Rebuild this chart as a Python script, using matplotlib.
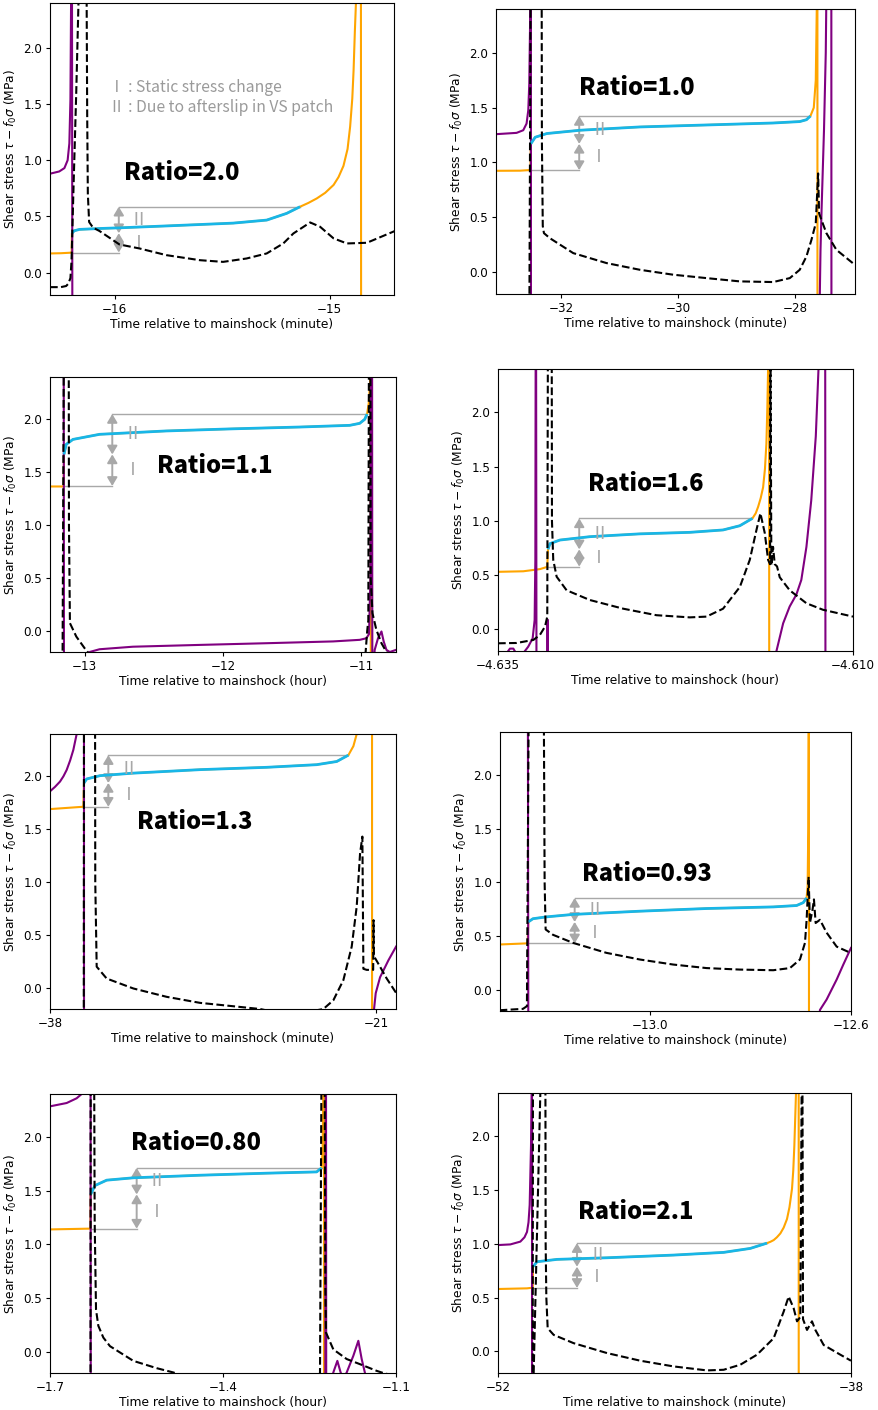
import numpy as np
import matplotlib
matplotlib.use("Agg")
import matplotlib.pyplot as plt

plt.rcParams["font.family"] = ["DejaVu Sans"]

# ---------------------------------------------------------------- data
# Panel 1  (Ratio=2.0, minutes)
p1_purple_t = [-16.30, -16.257, -16.233, -16.218, -16.210, -16.205, -16.202, -16.200, -16.198, -16.196]
p1_purple_y = [0.88, 0.90, 0.93, 1.00, 1.15, 1.54, 2.40, 3.00, 3.00, -0.50]
p1_black_t = [-16.30, -16.25, -16.225, -16.215, -16.205, -16.200, -16.190, -16.178, -16.165, -16.130,
              -16.127, -16.124, -16.118, -16.100, -16.070, -15.977, -15.883, -15.759, -15.603, -15.495,
              -15.386, -15.292, -15.215, -15.168, -15.090, -15.044, -14.981, -14.919, -14.826, -14.697]
p1_black_y = [-0.13, -0.13, -0.12, -0.10, -0.05, 0.10, 0.80, 1.60, 2.60, 2.60,
              1.40, 0.70, 0.45, 0.40, 0.37, 0.25, 0.214, 0.155, 0.110, 0.095,
              0.125, 0.170, 0.259, 0.348, 0.446, 0.408, 0.304, 0.259, 0.265, 0.369]
p1_orange_pre_t = [-16.30, -16.25, -16.21, -16.199]
p1_orange_pre_y = [0.17, 0.172, 0.176, 0.178]
p1_cyan_t = [-16.198, -16.187, -16.163, -16.070, -15.977, -15.759, -15.448, -15.292, -15.199, -15.137]
p1_cyan_y = [0.35, 0.372, 0.384, 0.392, 0.398, 0.415, 0.44, 0.467, 0.527, 0.586]
p1_orange_post_t = [-15.098, -15.059, -15.020, -14.981, -14.958, -14.935, -14.916, -14.904, -14.894,
                    -14.888, -14.882, -14.877, -14.874, -14.854, -14.853]
p1_orange_post_y = [0.62, 0.66, 0.71, 0.78, 0.85, 0.95, 1.10, 1.30, 1.55,
                    1.80, 2.15, 2.40, 3.00, 3.00, -0.50]

# Panel 2  (Ratio=1.0, minutes)
p2_purple_t = [-33.11, -32.758, -32.644, -32.587, -32.558, -32.541, -32.524, -32.520, -32.513, -32.512,
               -27.58, -27.56, -27.54, -27.50, -27.47, -27.45, -27.375, -27.373]
p2_purple_y = [1.258, 1.27, 1.294, 1.355, 1.476, 1.718, 2.39, 3.0, 3.0, -0.5,
               -0.5, 0.2, 0.6, 1.3, 2.0, 3.0, 3.0, -0.5]
p2_black_t = [-32.54, -32.515, -32.33, -32.325, -32.31, -32.29, -32.188, -31.789, -31.219, -30.650,
              -30.080, -29.510, -28.940, -28.370, -28.085, -27.915, -27.801, -27.715, -27.641, -27.601,
              -27.584, -27.544, -27.459, -27.288, -26.974]
p2_black_y = [-0.5, 3.0, 3.0, 1.2, 0.42, 0.355, 0.309, 0.173, 0.082, 0.021,
              -0.024, -0.055, -0.085, -0.091, -0.055, 0.021, 0.142, 0.294, 0.445, 0.90,
              0.536, 0.476, 0.355, 0.203, 0.067]
p2_orange_pre_t = [-33.11, -32.7, -32.55, -32.52]
p2_orange_pre_y = [0.924, 0.925, 0.93, 0.93]
p2_cyan_t = [-32.515, -32.44, -32.24, -31.67, -30.65, -29.51, -28.37, -27.915, -27.80, -27.732]
p2_cyan_y = [1.17, 1.23, 1.264, 1.294, 1.324, 1.342, 1.36, 1.373, 1.39, 1.424]
p2_orange_post_t = [-27.675, -27.641, -27.624, -27.620, -27.613, -27.612]
p2_orange_post_y = [1.5, 1.75, 2.4, 3.0, 3.0, -0.5]

# Panel 3  (Ratio=1.1, hours)
p3_purple_t = [-13.25, -13.151, -13.149, -12.99, -12.964, -12.892, -12.651, -12.169, -11.687, -11.205,
               -11.012, -10.964, -10.945, -10.935, -10.930, -10.923, -10.921, -10.904, -10.880, -10.855,
               -10.839, -10.819, -10.795, -10.75]
p3_purple_y = [3.0, 3.0, -0.5, -0.3, -0.2, -0.174, -0.15, -0.133, -0.117, -0.10,
               -0.085, -0.07, -0.03, 0.5, 3.0, 3.0, -0.5, -0.18, -0.07, -0.006,
               -0.10, -0.18, -0.20, -0.18]
p3_black_t = [-13.16, -13.149, -13.115, -13.113, -13.106, -13.06, -13.0, -12.976, -12.9, -11.1,
              -10.97, -10.958, -10.950, -10.945, -10.935, -10.933, -10.920, -10.892, -10.855, -10.819,
              -10.78]
p3_black_y = [-0.5, 3.0, 3.0, 1.0, 0.073, -0.054, -0.164, -0.202, -0.4, -0.4,
              -0.21, 0.0, 0.1, 3.0, 3.0, 0.5, 0.167, 0.01, -0.117, -0.2,
              -0.3]
p3_orange_pre_t = [-13.25, -13.16, -13.151]
p3_orange_pre_y = [1.365, 1.365, 1.37]
p3_cyan_t = [-13.149, -13.133, -13.084, -12.892, -12.41, -11.928, -11.446, -11.084, -11.012, -10.976, -10.959]
p3_cyan_y = [1.668, 1.763, 1.81, 1.858, 1.89, 1.91, 1.927, 1.943, 1.962, 2.0, 2.05]
p3_orange_post_t = [-10.947, -10.937, -10.934, -10.933, -10.932]
p3_orange_post_y = [2.15, 2.35, 3.0, 3.0, -0.5]

# Panel 4  (Ratio=1.6, hours)
p4_purple_t = [-4.63445, -4.63439, -4.63416, -4.63392, -4.63373, -4.63322, -4.63287, -4.63256, -4.63242, -4.63237,
               -4.63235, -4.63232, -4.63229, -4.63152, -4.63151, -4.63150, -4.6155, -4.61539, -4.61492, -4.61446,
               -4.61399, -4.61364, -4.61328, -4.61294, -4.61262, -4.61243, -4.61240, -4.61196, -4.61194]
p4_purple_y = [-0.25, -0.22, -0.178, -0.178, -0.22, -0.22, -0.16, -0.083, 0.086, 0.64,
               2.4, 3.0, -0.5, -0.5, 0.09, -0.5, -0.5, -0.2, 0.055, 0.21,
               0.32, 0.455, 0.76, 1.19, 1.78, 2.4, 3.0, 3.0, -0.5]
p4_black_t = [-4.635, -4.63369, -4.63251, -4.63205, -4.63169, -4.63153, -4.63148, -4.63122, -4.6312, -4.63111,
              -4.63087, -4.63017, -4.62853, -4.62618, -4.62384, -4.62149, -4.62032, -4.61915, -4.61797, -4.61727,
              -4.6168, -4.61652, -4.61621, -4.61598, -4.61584, -4.61582, -4.61575, -4.61563, -4.61551, -4.61535,
              -4.61516, -4.61446, -4.61328, -4.61211, -4.61]
p4_black_y = [-0.129, -0.126, -0.098, -0.052, 0.025, 0.117, 3.0, 3.0, 1.0, 0.64,
              0.485, 0.36, 0.27, 0.19, 0.13, 0.11, 0.117, 0.19, 0.39, 0.64,
              0.915, 1.07, 0.885, 0.64, 0.60, 3.0, 0.59, 0.76, 0.60, 0.58,
              0.48, 0.36, 0.24, 0.18, 0.117]
p4_orange_pre_t = [-4.635, -4.63322, -4.63205, -4.63162, -4.63153]
p4_orange_pre_y = [0.53, 0.535, 0.555, 0.572, 0.578]
p4_cyan_t = [-4.63148, -4.63134, -4.63064, -4.62853, -4.62501, -4.62149, -4.61915, -4.61797, -4.61708]
p4_cyan_y = [0.737, 0.79, 0.823, 0.854, 0.88, 0.894, 0.916, 0.955, 1.023]
p4_orange_post_t = [-4.61685, -4.61668, -4.61650, -4.61633, -4.61620, -4.6161, -4.61603, -4.61598, -4.61596,
                    -4.61591, -4.6159]
p4_orange_post_y = [1.07, 1.13, 1.21, 1.31, 1.48, 1.71, 2.05, 2.4, 3.0,
                    3.0, -0.5]

# Panel 5  (Ratio=1.3, minutes)
p5_purple_t = [-38.0, -37.74, -37.479, -37.30, -37.131, -36.95, -36.783, -36.609, -36.55, -36.228, -36.226,
               -21.174, -21.104, -21.017, -20.791, -20.357, -19.957]
p5_purple_y = [1.858, 1.90, 1.95, 2.00, 2.06, 2.15, 2.25, 2.4, 3.0, 3.0, -0.5,
               -0.5, -0.2, -0.05, 0.1, 0.26, 0.39]
p5_black_t = [-36.24, -36.227, -35.653, -35.64, -35.566, -35.045, -33.654, -31.916, -30.178, -28.44,
              -27.049, -25.5, -23.746, -23.225, -22.704, -22.269, -22.008, -21.834, -21.713, -21.661,
              -21.487, -21.15, -21.13, -21.11, -20.792, -20.444, -19.957]
p5_black_y = [-0.5, 3.0, 3.0, 1.0, 0.2, 0.088, -0.006, -0.085, -0.142, -0.174,
              -0.2, -0.26, -0.2, -0.117, 0.073, 0.39, 0.77, 1.27, 1.43, 0.18,
              0.17, 0.17, 0.64, 0.30, 0.2, 0.088, -0.047]
p5_orange_pre_t = [-38.0, -36.436, -36.262]
p5_orange_pre_y = [1.69, 1.71, 1.712]
p5_cyan_t = [-36.227, -36.088, -35.393, -33.654, -30.178, -26.702, -24.094, -23.051, -22.443]
p5_cyan_y = [1.937, 1.975, 2.006, 2.03, 2.063, 2.085, 2.11, 2.14, 2.2]
p5_orange_post_t = [-22.182, -22.008, -21.95, -21.21, -21.208]
p5_orange_post_y = [2.285, 2.4, 3.0, 3.0, -0.5]

# Panel 6  (Ratio=0.93, minutes)
p6_purple_t = [-13.30, -13.2445, -13.2435, -12.6686, -12.6619, -12.6486, -12.6286, -12.6153, -12.6]
p6_purple_y = [3.0, 3.0, -0.5, -0.5, -0.19, -0.093, 0.093, 0.233, 0.388]
p6_black_t = [-13.3008, -13.2542, -13.2463, -13.2423, -13.213, -13.211, -13.209, -13.1943, -13.1544, -13.0879,
              -13.0213, -12.9547, -12.8882, -12.8216, -12.7551, -12.7218, -12.7018, -12.6918, -12.6885, -12.6845,
              -12.6819, -12.6765, -12.6739, -12.6705, -12.6619, -12.6486, -12.6286, -12.6]
p6_black_y = [-0.193, -0.18, -0.155, 3.0, 3.0, 1.0, 0.56, 0.51, 0.435, 0.342,
              0.28, 0.233, 0.2, 0.186, 0.18, 0.2, 0.28, 0.435, 0.65, 1.05,
              0.62, 0.75, 0.84, 0.62, 0.65, 0.53, 0.4, 0.34]
p6_orange_pre_t = [-13.30, -13.2476, -13.2449]
p6_orange_pre_y = [0.42, 0.43, 0.43]
p6_cyan_t = [-13.2436, -13.2343, -13.2077, -13.1544, -13.0213, -12.8882, -12.7551, -12.7085, -12.6952, -12.6885]
p6_cyan_y = [0.63, 0.66, 0.677, 0.70, 0.73, 0.755, 0.77, 0.783, 0.81, 0.854]
p6_orange_post_t = [-12.6865, -12.6852, -12.6846, -12.6843, -12.6839, -12.6838]
p6_orange_post_y = [0.963, 1.5, 2.4, 3.0, 3.0, -0.5]

# Panel 7  (Ratio=0.80, hours)
p7_purple_t = [-1.7, -1.6711, -1.6538, -1.6451, -1.640, -1.6297, -1.6293, -1.2226, -1.2218, -1.2214,
               -1.2210, -1.2087, -1.2017, -1.1960, -1.1913, -1.1855, -1.174, -1.1653, -1.1595, -1.1538,
               -1.15]
p7_purple_y = [2.285, 2.316, 2.36, 2.4, 3.0, 3.0, -0.5, -0.5, 3.0, 3.0,
               -0.5, -0.195, -0.087, -0.195, -0.25, -0.195, -0.04, 0.1, -0.07, -0.2,
               -0.3]
p7_black_t = [-1.6298, -1.6294, -1.6237, -1.6225, -1.6202, -1.6162, -1.6075, -1.596, -1.5555, -1.515,
              -1.4861, -1.45, -1.24, -1.2318, -1.2289, -1.2240, -1.2225, -1.2214, -1.2087, -1.1855,
              -1.1624, -1.1335, -1.122, -1.10]
p7_black_y = [-0.5, 3.0, 3.0, 1.2, 0.39, 0.24, 0.13, 0.05, -0.087, -0.155,
              -0.195, -0.26, -0.26, -0.2, 3.0, 3.0, 0.6, 0.177, 0.02, -0.07,
              -0.118, -0.18, -0.2, -0.23]
p7_orange_pre_t = [-1.7, -1.6335, -1.6300]
p7_orange_pre_y = [1.138, 1.145, 1.145]
p7_cyan_t = [-1.6295, -1.622, -1.6017, -1.5555, -1.4399, -1.3243, -1.2376, -1.2289]
p7_cyan_y = [1.464, 1.547, 1.597, 1.619, 1.643, 1.662, 1.674, 1.712]
p7_orange_post_t = [-1.2272, -1.226, -1.2255, -1.2249, -1.2248]
p7_orange_post_y = [1.91, 2.4, 3.0, 3.0, -0.5]

# Panel 8  (Ratio=2.1, minutes)
p8_purple_t = [-52.0, -51.511, -51.114, -50.95, -50.85, -50.79, -50.744, -50.691, -50.665, -50.66, -50.652, -50.650]
p8_purple_y = [0.988, 0.994, 1.02, 1.06, 1.11, 1.20, 1.36, 1.91, 2.4, 3.0, 3.0, -0.5]
p8_black_t = [-50.625, -50.612, np.nan, -50.585, -50.321, -50.30, -50.123, -50.110, -50.083, -50.030,
              -49.792, -48.999, -47.677, -46.355, -45.033, -43.711, -43.05, -42.389, -41.728, -41.067,
              -40.67, -40.472, -40.273, -40.141, -40.009, -39.943, -39.930, -39.903, -39.745, -39.547,
              -39.414, -39.084, -38.423, -38.0]
p8_black_y = [-0.5, 3.0, np.nan, -0.2, 2.4, 3.0, 3.0, 1.0, 0.5, 0.216,
              0.154, 0.077, -0.015, -0.086, -0.139, -0.176, -0.17, -0.123, -0.03, 0.123,
              0.37, 0.51, 0.4, 0.28, 0.32, 3.0, 3.0, 0.3, 0.2, 0.28,
              0.2, 0.06, -0.03, -0.086]
p8_orange_pre_t = [-52.0, -50.85, -50.70, -50.62]
p8_orange_pre_y = [0.58, 0.586, 0.59, 0.59]
p8_cyan_t = [-50.612, -50.453, -49.66, -47.677, -45.033, -43.05, -41.992, -41.331]
p8_cyan_y = [0.787, 0.833, 0.855, 0.87, 0.895, 0.92, 0.957, 1.006]
p8_orange_post_t = [-41.20, -41.067, -40.94, -40.802, -40.67, -40.538, -40.44, -40.34, -40.29, -40.247,
                    -40.181, -40.15, -40.075, -40.073]
p8_orange_post_y = [1.018, 1.034, 1.06, 1.096, 1.15, 1.23, 1.34, 1.51, 1.68, 1.91,
                    2.4, 3.0, 3.0, -0.5]

# ratio labels and time units
ratios = ["2.0", "1.0", "1.1", "1.6", "1.3", "0.93", "0.80", "2.1"]
units = ["minute", "minute", "hour", "hour", "minute", "minute", "hour", "minute"]

# x ranges and ticks
xlims = [(-16.30, -14.70), (-33.11, -26.97), (-13.25, -10.75), (-4.635, -4.610),
         (-38.0, -19.96), (-13.30, -12.60), (-1.70, -1.10), (-52.0, -38.0)]
xticks = [[-16, -15], [-32, -30, -28], [-13, -12, -11], [-4.635, -4.610],
          [-38, -21], [-13.0, -12.6], [-1.7, -1.4, -1.1], [-52, -38]]
xticklabels = [["\u221216", "\u221215"], ["\u221232", "\u221230", "\u221228"],
               ["\u221213", "\u221212", "\u221211"], ["\u22124.635", "\u22124.610"],
               ["\u221238", "\u221221"], ["\u221213.0", "\u221212.6"],
               ["\u22121.7", "\u22121.4", "\u22121.1"], ["\u221252", "\u221238"]]
yticks = [0.0, 0.5, 1.0, 1.5, 2.0]

# x position of the stress-budget arrows
arrow_x = [-15.98, -31.687, -12.80, -4.62928, -34.958, -13.1511, -1.5497, -48.867]

# ---------------------------------------------------------------- layout
W, H = 879, 1410
# axes boxes in pixels: left, top, right, bottom
boxes = [(50, 3, 394, 295), (496, 9, 855, 294),
         (50, 377, 396, 652), (498, 369, 853, 651),
         (50, 734, 396, 1009), (500, 732, 851, 1011),
         (50, 1094, 396, 1373), (498, 1093, 851, 1373)]
ratio_pos = [(-15.958, 0.887), (-31.69, 1.68), (-12.475, 1.564), (-4.62869, 1.34),
             (-33.48, 1.573), (-13.136, 1.08), (-1.5595, 1.944), (-48.83, 1.30)]

ORANGE = "#ffa500"
PURPLE = "#800080"
CYAN = "#18b6e8"
GRAY = "#a8a8a8"
CJK = ["Noto Sans CJK JP", "DejaVu Sans"]

series = [
    (p1_purple_t, p1_purple_y, p1_black_t, p1_black_y, p1_orange_pre_t, p1_orange_pre_y,
     p1_cyan_t, p1_cyan_y, p1_orange_post_t, p1_orange_post_y),
    (p2_purple_t, p2_purple_y, p2_black_t, p2_black_y, p2_orange_pre_t, p2_orange_pre_y,
     p2_cyan_t, p2_cyan_y, p2_orange_post_t, p2_orange_post_y),
    (p3_purple_t, p3_purple_y, p3_black_t, p3_black_y, p3_orange_pre_t, p3_orange_pre_y,
     p3_cyan_t, p3_cyan_y, p3_orange_post_t, p3_orange_post_y),
    (p4_purple_t, p4_purple_y, p4_black_t, p4_black_y, p4_orange_pre_t, p4_orange_pre_y,
     p4_cyan_t, p4_cyan_y, p4_orange_post_t, p4_orange_post_y),
    (p5_purple_t, p5_purple_y, p5_black_t, p5_black_y, p5_orange_pre_t, p5_orange_pre_y,
     p5_cyan_t, p5_cyan_y, p5_orange_post_t, p5_orange_post_y),
    (p6_purple_t, p6_purple_y, p6_black_t, p6_black_y, p6_orange_pre_t, p6_orange_pre_y,
     p6_cyan_t, p6_cyan_y, p6_orange_post_t, p6_orange_post_y),
    (p7_purple_t, p7_purple_y, p7_black_t, p7_black_y, p7_orange_pre_t, p7_orange_pre_y,
     p7_cyan_t, p7_cyan_y, p7_orange_post_t, p7_orange_post_y),
    (p8_purple_t, p8_purple_y, p8_black_t, p8_black_y, p8_orange_pre_t, p8_orange_pre_y,
     p8_cyan_t, p8_cyan_y, p8_orange_post_t, p8_orange_post_y),
]

fig = plt.figure(figsize=(W / 100, H / 100), dpi=100)

for i, (pt, py, bt, by, opt, opy, ct, cy, oqt, oqy) in enumerate(series):
    l, t, r, b = boxes[i]
    ax = fig.add_axes([l / W, 1 - b / H, (r - l) / W, (b - t) / H])

    # full orange trace = before mainshock step + cyan stretch + after
    orange_t = list(opt) + list(ct) + list(oqt)
    orange_y = list(opy) + list(cy) + list(oqy)
    ax.plot(orange_t, orange_y, color=ORANGE, lw=1.5, zorder=2)
    ax.plot(ct, cy, color=CYAN, lw=2.0, zorder=3, solid_capstyle="butt")
    ax.plot(pt, py, color=PURPLE, lw=1.5, zorder=2.5)
    ax.plot(bt, by, color="black", lw=1.5, ls="--", zorder=4)

    # stress budget: I = static step, II = afterslip contribution
    base, mid, top = opy[-1], cy[0], cy[-1]
    xa = arrow_x[i]
    ax.plot([ct[0], xa], [base, base], color=GRAY, lw=1.0, zorder=1)
    ax.plot([xa, ct[-1]], [top, top], color=GRAY, lw=1.0, zorder=1)
    aprops = dict(arrowstyle="<|-|>,head_length=0.5,head_width=0.3", color=GRAY,
                  lw=1.4, shrinkA=0, shrinkB=0, mutation_scale=10)
    ax.annotate("", xy=(xa, base), xytext=(xa, mid), arrowprops=aprops, zorder=1)
    ax.annotate("", xy=(xa, mid), xytext=(xa, top), arrowprops=aprops, zorder=1)
    ax.annotate("\u2160", xy=(xa, (base + mid) / 2), xytext=(8, 0), textcoords="offset points",
                ha="left", va="center", color=GRAY, fontsize=13, family=CJK)
    ax.annotate("\u2161", xy=(xa, (mid + top) / 2), xytext=(8, 0), textcoords="offset points",
                ha="left", va="center", color=GRAY, fontsize=13, family=CJK)

    rx, ry = ratio_pos[i]
    ax.text(rx, ry, "Ratio=" + ratios[i], ha="left", va="center", fontsize=17,
            fontweight="heavy", family=CJK, color="black", zorder=6)

    ax.set_xlim(*xlims[i])
    ax.set_ylim(-0.2, 2.4)
    ax.set_xticks(xticks[i], xticklabels[i])
    ax.set_yticks(yticks)
    ax.tick_params(labelsize=8.6, length=3, pad=2.5)
    ax.set_xlabel("Time relative to mainshock (%s)" % units[i], fontsize=8.8, labelpad=2)
    ax.set_ylabel(r"Shear stress $\tau - f_0\sigma$ (MPa)", fontsize=8.8)
    ax.yaxis.set_label_coords(-31.0 / (r - l), 0.5)

    if i == 0:
        ax.text(-16.025, 1.65, "\u2160 : Static stress change", color="#9a9a9a",
                fontsize=11.3, ha="left", va="center", family=CJK)
        ax.text(-16.025, 1.47, "\u2161 : Due to afterslip in VS patch", color="#9a9a9a",
                fontsize=11.3, ha="left", va="center", family=CJK)

fig.savefig("out.png", dpi=100)
